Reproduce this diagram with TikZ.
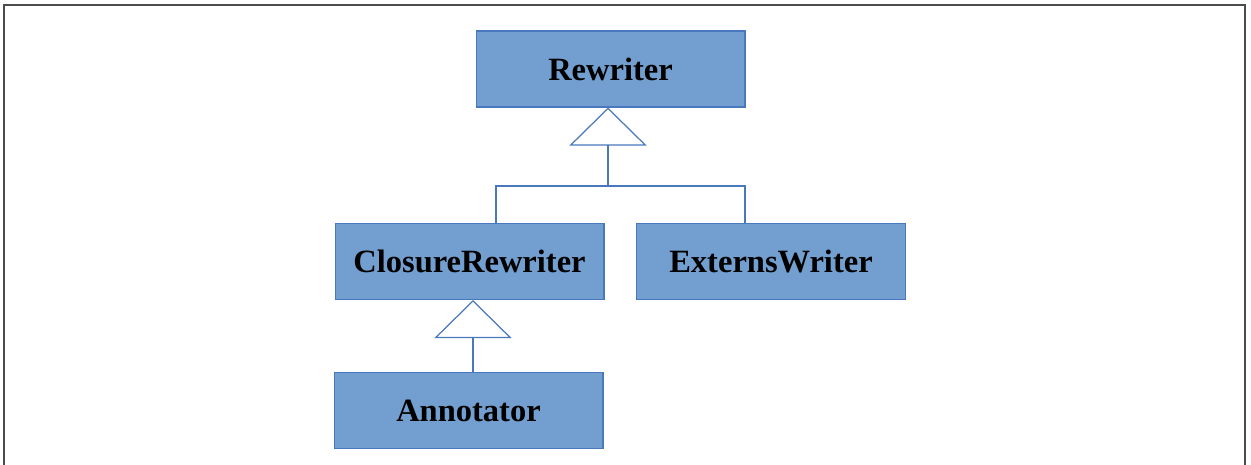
\documentclass[tikz,border=0pt]{standalone}
\usepackage{fontspec}
\setmainfont{Liberation Serif}
\usetikzlibrary{arrows.meta}

\begin{document}
\begin{tikzpicture}[x=0.02cm, y=-0.02cm,
    cls/.style={draw=clsline, fill=clsfill, line width=0.6pt, minimum width=5.38cm,
        minimum height=1.52cm, inner sep=0pt,
        font=\fontsize{18.5}{22}\selectfont\bfseries},
    inherit/.style={draw=clsline, line width=0.7pt,
        -{Triangle[open, length=0.76cm, width=1.54cm, fill=white]}}]
        \definecolor{clsfill}{HTML}{729FCF}
        \definecolor{clsline}{HTML}{4A78BE}
        \useasboundingbox (0,0) rectangle (1251,465);
        % frame
        \draw[line width=1.1pt, black!70] (4,466) -- (4,5) -- (1245,5) -- (1245,466);
        % classes
        \node[cls] (rewriter) at (610.5,69) {Rewriter};
        \node[cls] (closure) at (469.5,261.5) {ClosureRewriter};
        \node[cls] (externs) at (771,261.5) {ExternsWriter};
        \node[cls] (annotator) at (468.5,410.5) {Annotator};
        % inheritance
        \coordinate (join) at (608,186);
        \draw[draw=clsline, line width=0.7pt] (closure.north -| 496,0) |- (join) -| (externs.north -| 745,0);
        \draw[inherit] (join) -- (rewriter.south -| join);
        \draw[inherit] (annotator.north -| 473,0) -- (closure.south -| 473,0);
\end{tikzpicture}
\end{document}
